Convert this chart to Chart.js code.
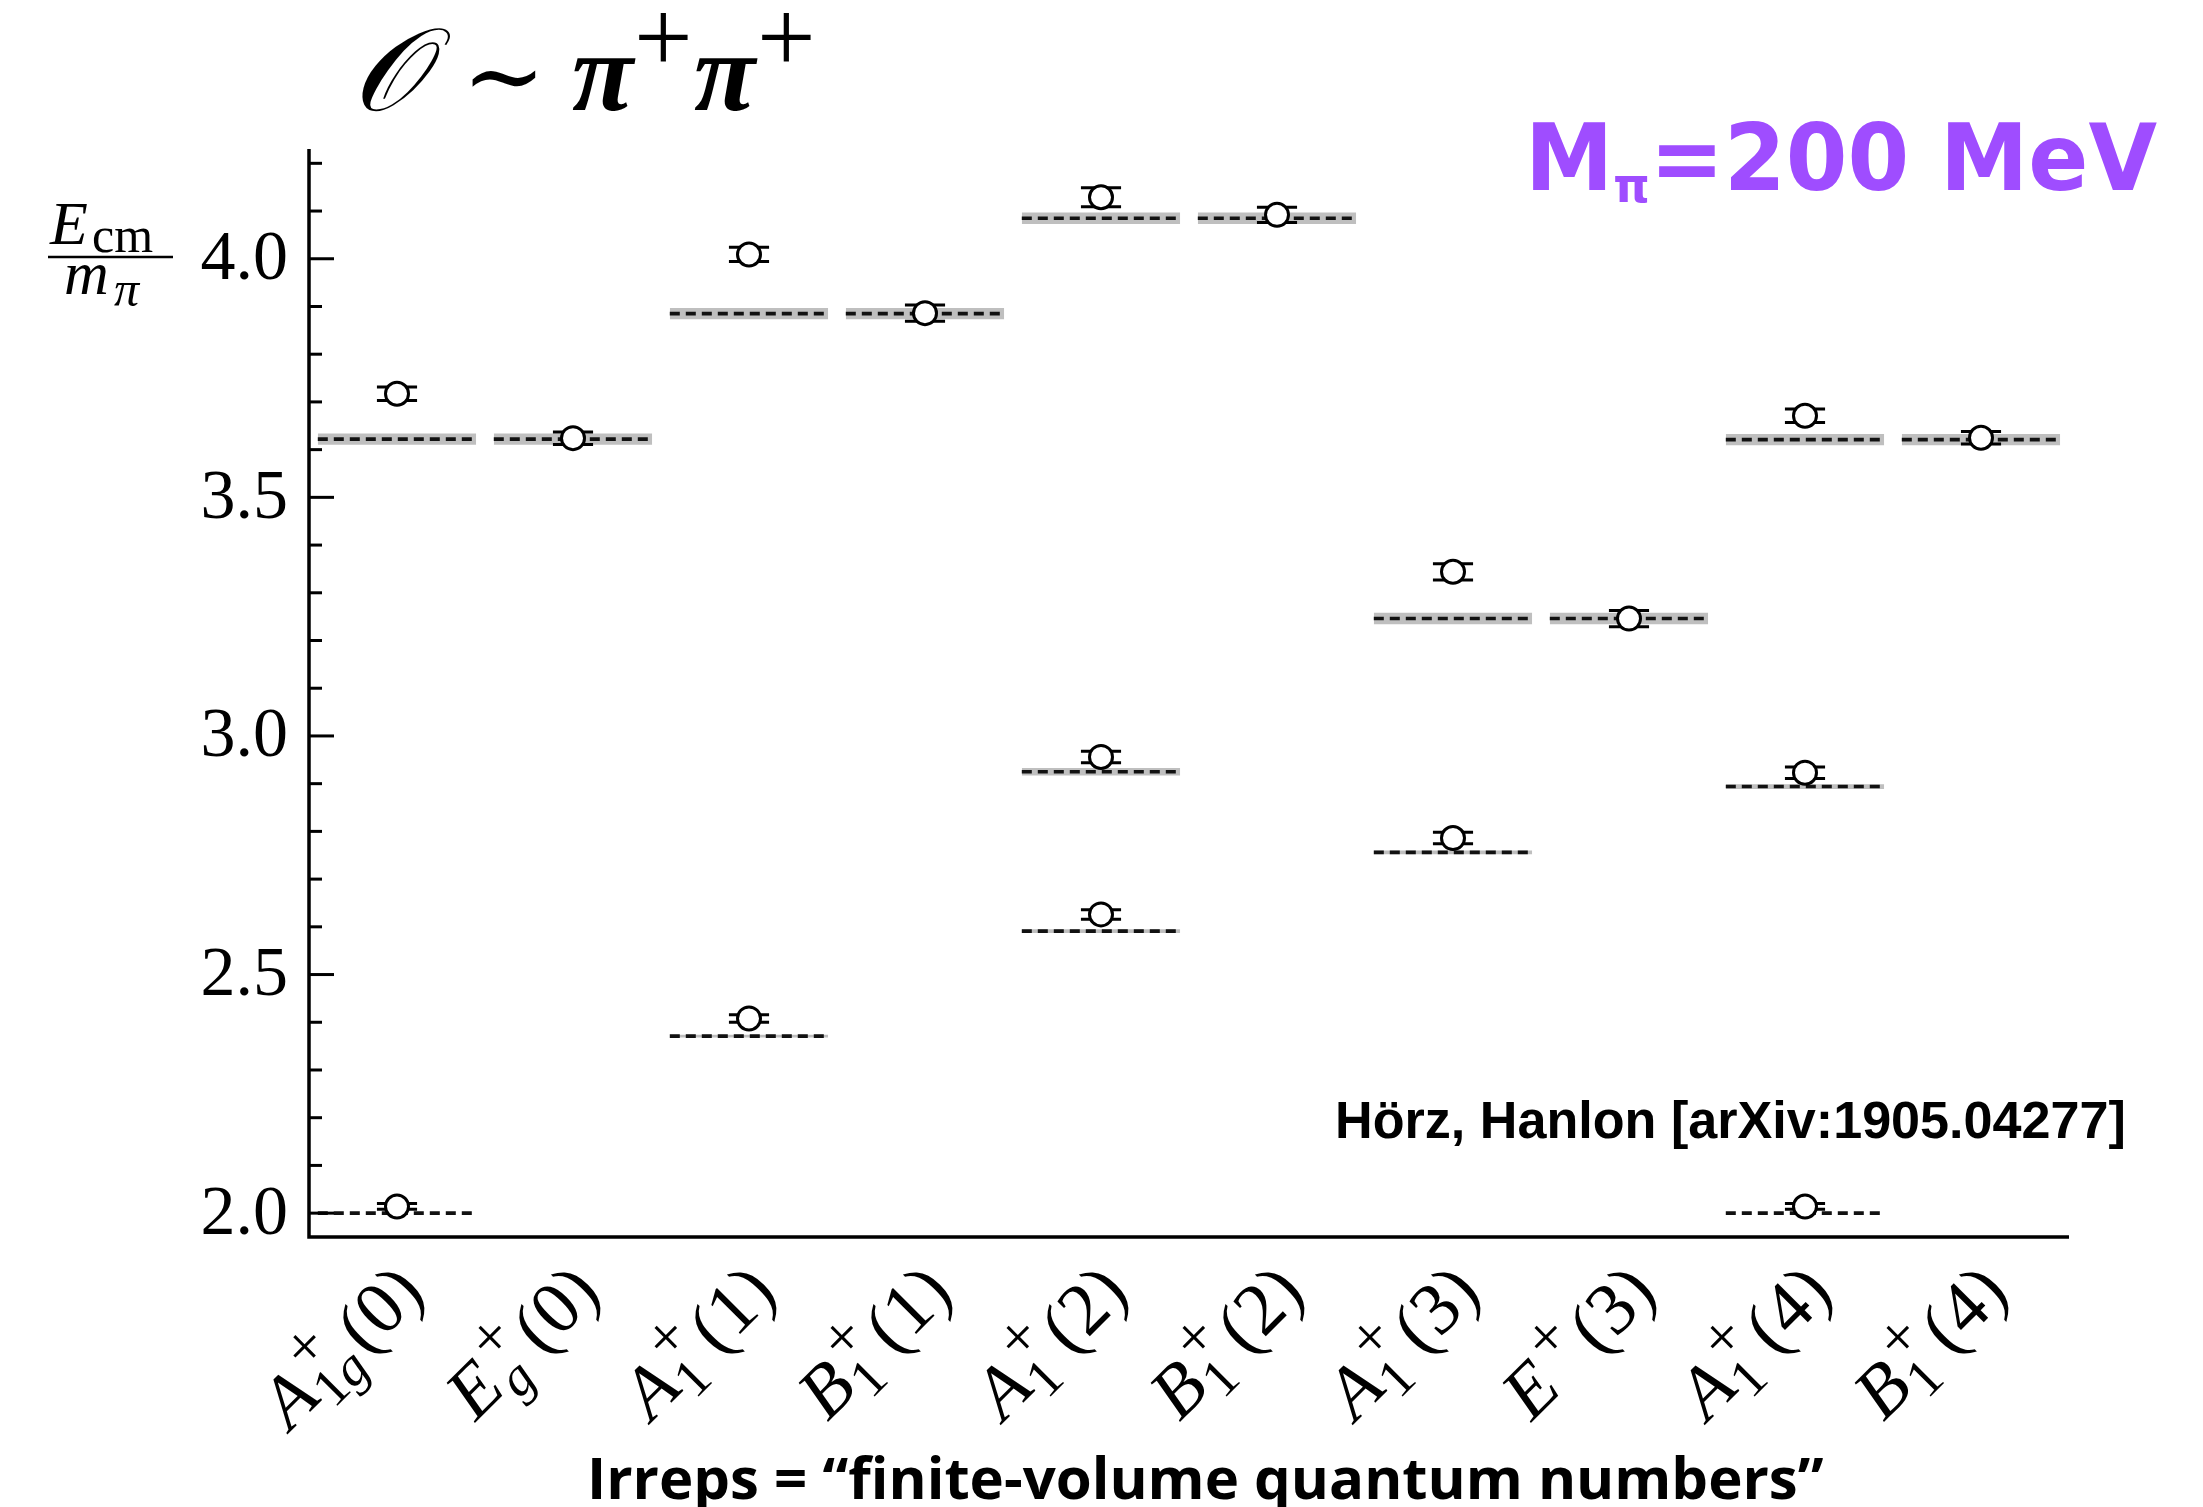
<!DOCTYPE html>
<html>
<head>
<meta charset="utf-8">
<script src="https://cdn.jsdelivr.net/npm/chart.js@4.4.1/dist/chart.umd.min.js"></script>
<style>
  html, body { margin: 0; padding: 0; background: #fff; }
  canvas { display: block; }
</style>
</head>
<body>
<canvas id="spectrum" width="2203" height="1507"></canvas>
<script>
// ===== data =====

// irreps along the x axis: letter, subscript, superscript, momentum
const irrepLetter = ['A', 'E', 'A', 'B', 'A', 'B', 'A', 'E', 'A', 'B'];
const irrepSub    = ['1g', 'g', '1', '1', '1', '1', '1', '', '1', '1'];
const irrepSup    = ['+', '+', '+', '+', '+', '+', '+', '+', '+', '+'];
const irrepMom    = ['0', '0', '1', '1', '2', '2', '3', '3', '4', '4'];

// non-interacting levels (dashed) and their grey bands
const levelCat = [0, 0, 1, 2, 2, 3, 4, 4, 4, 5, 6, 6, 7, 8, 8, 8, 9];
const levelE   = [3.622, 2.000, 3.622, 3.885, 2.371, 3.885, 4.085, 2.925, 2.591, 4.085, 3.246, 2.756, 3.246, 3.621, 2.894, 2.000, 3.621];
const levelErr = [0.012, 0.000, 0.012, 0.012, 0.003, 0.012, 0.012, 0.008, 0.004, 0.012, 0.012, 0.004, 0.012, 0.012, 0.005, 0.000, 0.012];

// lattice energies (open circles with error bars)
const pointCat = [0, 0, 1, 2, 2, 3, 4, 4, 4, 5, 6, 6, 7, 8, 8, 8, 9];
const pointE   = [3.717, 2.014, 3.624, 4.009, 2.408, 3.886, 4.129, 2.956, 2.626, 4.092, 3.344, 2.786, 3.246, 3.671, 2.923, 2.014, 3.625];
const pointErr = [0.014, 0.006, 0.013, 0.015, 0.008, 0.017, 0.020, 0.012, 0.010, 0.016, 0.017, 0.012, 0.017, 0.014, 0.012, 0.006, 0.013];

// y axis ticks
const yMajorTicks = [2.0, 2.5, 3.0, 3.5, 4.0];
const yTickLabels = ['2.0', '2.5', '3.0', '3.5', '4.0'];
const yMinorTicks = [2.1, 2.2, 2.3, 2.4, 2.6, 2.7, 2.8, 2.9, 3.1, 3.2, 3.3, 3.4, 3.6, 3.7, 3.8, 3.9, 4.1, 4.2];

const yMin = 1.95, yMax = 4.23;
const xMin = -0.5, xMax = 9.5;

const halfW = 0.45;   // half width of a level segment (x units)
const capW = 0.114;   // half width of an error bar cap (x units)

// ===== build line data with gaps =====
const levelPts = [];
levelCat.forEach((c, i) => {
    levelPts.push({ x: c - halfW, y: levelE[i] }, { x: c + halfW, y: levelE[i] }, { x: c, y: null });
});

// one dataset per grey band, filled down to the lower edge
const bandSets = [];
levelCat.forEach((c, i) => {
    if (levelErr[i] <= 0) return;
    bandSets.push({
        data: [{ x: c - halfW, y: levelE[i] + levelErr[i] }, { x: c + halfW, y: levelE[i] + levelErr[i] }],
        showLine: true,
        borderWidth: 0,
        borderColor: 'rgba(0,0,0,0)',
        backgroundColor: '#bfbfbf',
        pointRadius: 0,
        fill: { value: levelE[i] - levelErr[i] },
        order: 4
    });
});

const errPts = [];
pointCat.forEach((c, i) => {
    const v = pointE[i], e = pointErr[i];
    errPts.push({ x: c - capW, y: v + e }, { x: c + capW, y: v + e }, { x: c, y: null });
    errPts.push({ x: c - capW, y: v - e }, { x: c + capW, y: v - e }, { x: c, y: null });
    errPts.push({ x: c, y: v - e }, { x: c, y: v + e }, { x: c, y: null });
});
const markerPts = pointCat.map((c, i) => ({ x: c, y: pointE[i] }));

// ===== helpers for the text decorations =====
const SERIF = '"Liberation Serif", "DejaVu Serif", serif';

function fitFont(ctx, text, weight, family, targetW) {
    ctx.font = weight + ' 100px ' + family;
    return 100 * targetW / ctx.measureText(text).width;
}

// one rotated irrep label, ending at (x, y)
function drawIrrep(ctx, x, y, i) {
    const big = 74, small = 54;
    const fBig = 'italic ' + big + 'px ' + SERIF;
    const fSmallIt = 'italic ' + small + 'px ' + SERIF;
    const fSmall = small + 'px ' + SERIF;
    const fSup = '62px ' + SERIF;
    const fUp = big + 'px ' + SERIF;

    ctx.font = fBig;
    const wL = ctx.measureText(irrepLetter[i]).width;
    let wSub = 0;
    for (const ch of irrepSub[i]) {
        ctx.font = /[0-9]/.test(ch) ? fSmall : fSmallIt;
        wSub += ctx.measureText(ch).width;
    }
    ctx.font = fSup;
    const wSup = ctx.measureText(irrepSup[i]).width + 6;
    const wScr = Math.max(wSub, wSup);
    ctx.font = fUp;
    const mom = '(' + irrepMom[i] + ')';
    const wM = ctx.measureText(mom).width;
    const total = wL + 2 + wScr + 6 + wM;

    ctx.save();
    ctx.translate(x, y);
    ctx.rotate(-Math.PI / 4);
    ctx.textAlign = 'left';
    ctx.textBaseline = 'alphabetic';
    let px = -total;
    ctx.font = fBig;
    ctx.fillText(irrepLetter[i], px, 0);
    px += wL + 2;
    ctx.font = fSup;
    ctx.fillText(irrepSup[i], px + 6, -big * 0.40);
    let sx = px;
    for (const ch of irrepSub[i]) {
        ctx.font = /[0-9]/.test(ch) ? fSmall : fSmallIt;
        ctx.fillText(ch, sx, big * 0.2);
        sx += ctx.measureText(ch).width;
    }
    px += wScr + 6;
    ctx.font = fUp;
    ctx.fillText(mom, px, 0);
    ctx.restore();
}

// axes, ticks, labels, title and notes
const decorPlugin = {
    id: 'decor',
    afterDraw(chart) {
        const ctx = chart.ctx;
        const xs = chart.scales.x, ys = chart.scales.y;
        const a = chart.chartArea;
        ctx.save();
        ctx.fillStyle = '#000';
        ctx.strokeStyle = '#000';

        // axis lines
        ctx.lineWidth = 3.5;
        ctx.beginPath();
        ctx.moveTo(a.left, a.top);
        ctx.lineTo(a.left, a.bottom);
        ctx.lineTo(a.right, a.bottom);
        ctx.stroke();

        // ticks pointing into the plot
        ctx.lineWidth = 3;
        yMinorTicks.forEach(v => {
            const y = ys.getPixelForValue(v);
            ctx.beginPath(); ctx.moveTo(a.left, y); ctx.lineTo(a.left + 13, y); ctx.stroke();
        });
        yMajorTicks.forEach(v => {
            const y = ys.getPixelForValue(v);
            ctx.beginPath(); ctx.moveTo(a.left, y); ctx.lineTo(a.left + 25, y); ctx.stroke();
        });

        // y tick labels
        ctx.font = '70px ' + SERIF;
        ctx.textAlign = 'right';
        ctx.textBaseline = 'middle';
        yMajorTicks.forEach((v, i) => {
            ctx.fillText(yTickLabels[i], a.left - 21, ys.getPixelForValue(v) + 2);
        });

        // y title  E_cm / m_pi
        ctx.textAlign = 'left';
        ctx.textBaseline = 'alphabetic';
        ctx.font = 'italic 62px ' + SERIF;
        ctx.fillText('E', 50, 244);
        ctx.font = '50px ' + SERIF;
        ctx.fillText('cm', 92, 252);
        ctx.lineWidth = 2.5;
        ctx.beginPath(); ctx.moveTo(48, 257); ctx.lineTo(173, 257); ctx.stroke();
        ctx.font = 'italic 62px ' + SERIF;
        ctx.fillText('m', 64, 294);
        ctx.font = 'italic 50px ' + SERIF;
        ctx.fillText('\u03C0', 114, 306);

        // irrep labels
        for (let i = 0; i < irrepLetter.length; i++) {
            drawIrrep(ctx, xs.getPixelForValue(i) + 30, a.bottom + 58, i);
        }

        // x title
        const xt = 'Irreps = \u201Cfinite-volume quantum numbers\u201D';
        const xtSize = fitFont(ctx, xt, 'bold', '"Open Sans", sans-serif', 1237);
        ctx.font = 'bold ' + xtSize + 'px "Open Sans", sans-serif';
        ctx.fillText(xt, 587, 1499);

        // citation
        const cite = 'H\u00F6rz, Hanlon [arXiv:1905.04277]';
        const cSize = fitFont(ctx, cite, 'bold', '"Liberation Sans", Arial, sans-serif', 791);
        ctx.font = 'bold ' + cSize + 'px "Liberation Sans", Arial, sans-serif';
        ctx.fillText(cite, 1335, 1138);

        // formula title  O ~ pi+ pi+
        ctx.font = 'italic 116px ' + SERIF;
        ctx.fillText('\uD835\uDCAA', 352, 110);
        ctx.font = '100px ' + SERIF;
        ctx.fillText('\u223C', 462, 110);
        ctx.font = 'bold italic 112px ' + SERIF;
        ctx.fillText('\u03C0', 572, 110);
        ctx.fillText('\u03C0', 694, 110);
        ctx.font = '104px ' + SERIF;
        ctx.fillText('+', 634, 72);
        ctx.fillText('+', 757, 72);

        // purple pion-mass note
        ctx.fillStyle = '#9f4dff';
        ctx.save();
        ctx.translate(1525, 190);
        const fam = '"DejaVu Sans", sans-serif';
        ctx.font = 'bold 92px ' + fam;
        const wM = ctx.measureText('M').width;
        ctx.font = 'bold 48px ' + fam;
        const wPi = ctx.measureText('\u03C0').width;
        ctx.font = 'bold 92px ' + fam;
        const wRest = ctx.measureText('=200 MeV').width;
        ctx.scale(632 / (wM + wPi + wRest), 1);
        ctx.fillText('M', 0, 0);
        ctx.font = 'bold 48px ' + fam;
        ctx.fillText('\u03C0', wM, 12);
        ctx.font = 'bold 92px ' + fam;
        ctx.fillText('=200 MeV', wM + wPi, 0);
        ctx.restore();

        ctx.restore();
    }
};

// ===== chart =====
const ctx = document.getElementById('spectrum').getContext('2d');
new Chart(ctx, {
    type: 'scatter',
    data: {
        datasets: [
            {   // open circles
                data: markerPts,
                pointStyle: 'circle',
                pointRadius: 11.5,
                pointBackgroundColor: '#ffffff',
                pointBorderColor: '#000000',
                pointBorderWidth: 3,
                showLine: false,
                order: 1
            },
            {   // error bars
                data: errPts,
                showLine: true,
                borderColor: '#000000',
                borderWidth: 3,
                pointRadius: 0,
                order: 2
            },
            {   // dashed non-interacting levels
                data: levelPts,
                showLine: true,
                borderColor: '#111111',
                borderWidth: 3.6,
                borderDash: [10, 6],
                pointRadius: 0,
                order: 3
            },
            ...bandSets
        ]
    },
    options: {
        responsive: false,
        animation: false,
        layout: { padding: { left: 309, top: 149, right: 134, bottom: 270 } },
        plugins: { legend: { display: false }, tooltip: { enabled: false } },
        scales: {
            x: { type: 'linear', min: xMin, max: xMax, display: false },
            y: { type: 'linear', min: yMin, max: yMax, display: false }
        }
    },
    plugins: [decorPlugin]
});
</script>
</body>
</html>
